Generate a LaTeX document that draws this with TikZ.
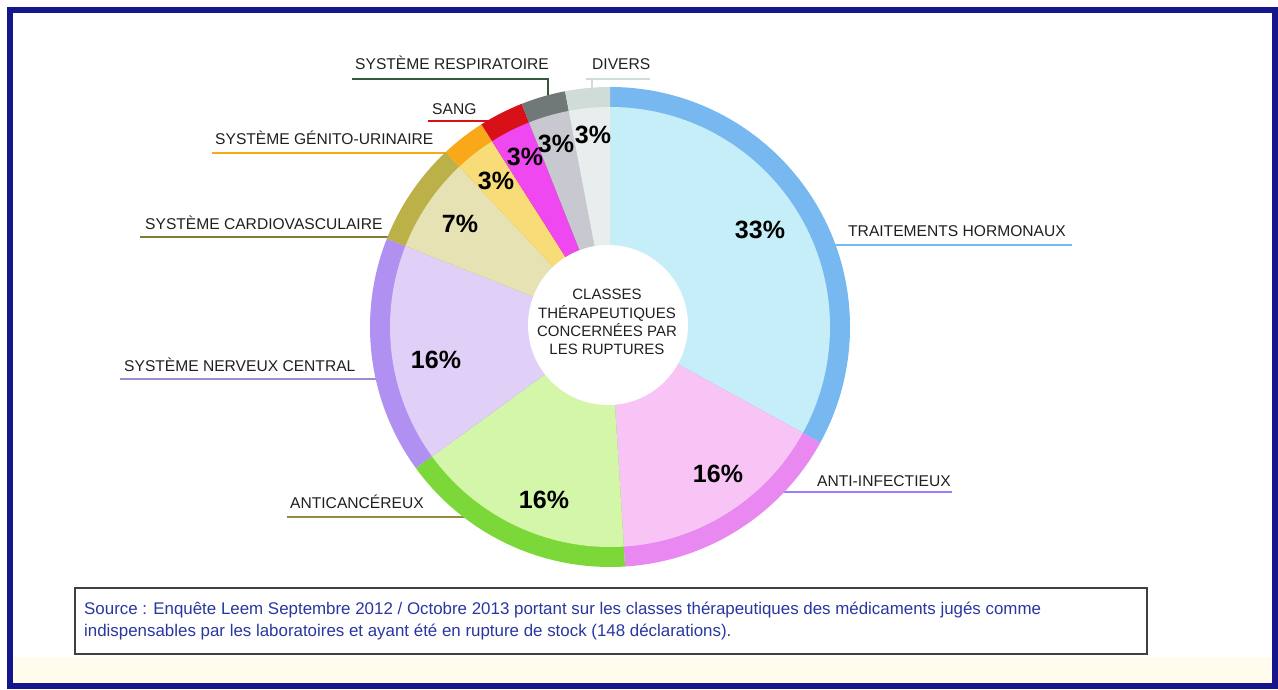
\documentclass[tikz,border=0pt]{standalone}
\usepackage{fontspec}
\setmainfont{Liberation Sans}
\definecolor{framec}{HTML}{15158C}
\definecolor{creamc}{HTML}{FFFCEE}
\definecolor{hormF}{HTML}{C6EEF8}\definecolor{hormR}{HTML}{78B8F0}
\definecolor{infF}{HTML}{F8C4F6}\definecolor{infR}{HTML}{E888F0}
\definecolor{cancF}{HTML}{D4F6A8}\definecolor{cancR}{HTML}{7CD838}
\definecolor{sncF}{HTML}{E0D0F8}\definecolor{sncR}{HTML}{B090F0}
\definecolor{cardF}{HTML}{E6E2B4}\definecolor{cardR}{HTML}{BCB048}
\definecolor{genF}{HTML}{F8DC78}\definecolor{genR}{HTML}{F8A818}
\definecolor{sangF}{HTML}{F048F0}\definecolor{sangR}{HTML}{D81018}
\definecolor{respF}{HTML}{C8C8D0}\definecolor{respR}{HTML}{707878}
\definecolor{divF}{HTML}{E8EEEE}\definecolor{divR}{HTML}{D0DCD8}
\definecolor{srcblue}{HTML}{2838A0}
\definecolor{labtxt}{HTML}{202020}
\newcommand\pieslice[4]{%
  \fill[#3] (c) -- ++(#1:240pt) arc[start angle=#1,end angle=#2,radius=240pt] -- cycle;
  \fill[#4] (c) -- ++(#1:220pt) arc[start angle=#1,end angle=#2,radius=220pt] -- cycle;}
\tikzset{
  lab/.style={anchor=base west,inner sep=0pt,text=labtxt,font=\fontsize{15.6}{18}\selectfont},
  pct/.style={inner sep=0pt,text=black,font=\bfseries\fontsize{25}{25}\selectfont},
  uline/.style={line width=1.4pt},
  src/.style={anchor=base west,inner sep=0pt,text=srcblue,font=\fontsize{16.9}{20}\selectfont}
}
\begin{document}
\begin{tikzpicture}[x=1pt,y=1pt]
\useasboundingbox (0,0) rectangle (1278,689);
\fill[white] (0,0) rectangle (1278,689);
\fill[creamc] (12,6) rectangle (1272,32);
\draw[framec,line width=6pt] (9.5,3) rectangle (1275,679);

% leader / underline lines
\coordinate (r1) at (352,610); \coordinate (r2) at (548,610); \coordinate (r3) at (548,592);
\draw[uline,color=respR!80!green!60!black] (r1) -- (r2) -- (r3);
\coordinate (d1) at (586,610); \coordinate (d2) at (650,610); \coordinate (d3) at (592,600);
\draw[uline,color=divR] (d1) -- (d2); \draw[uline,color=divR] (d3 |- d1) -- (d3);
\coordinate (s1) at (428,568); \coordinate (s2) at (490,568);
\draw[uline,color=sangR] (s1) -- (s2);
\coordinate (g1) at (212,536); \coordinate (g2) at (448,536);
\draw[uline,color=genR] (g1) -- (g2);
\coordinate (cv1) at (140,452); \coordinate (cv2) at (390,452);
\draw[uline,color=cardR!70!black] (cv1) -- (cv2);
\coordinate (n1) at (120,310); \coordinate (n2) at (378,310);
\draw[uline,color=sncR!70!gray] (n1) -- (n2);
\coordinate (h1) at (834,444); \coordinate (h2) at (1072,444);
\draw[uline,color=hormR] (h1) -- (h2);
\coordinate (i1) at (782,197); \coordinate (i2) at (952,197);
\draw[uline,color=infR!50!blue!70!white] (i1) -- (i2);
\coordinate (a1) at (287,172); \coordinate (a2) at (465,172);
\draw[uline,color=cardR!80!black] (a1) -- (a2);

% pie
\coordinate (c) at (610,362);
\pieslice{90}{-28.8}{hormR}{hormF}
\pieslice{-28.8}{-86.4}{infR}{infF}
\pieslice{-86.4}{-144}{cancR}{cancF}
\pieslice{-144}{-201.6}{sncR}{sncF}
\pieslice{-201.6}{-226.8}{cardR}{cardF}
\pieslice{-226.8}{-237.6}{genR}{genF}
\pieslice{-237.6}{-248.4}{sangR}{sangF}
\pieslice{-248.4}{-259.2}{respR}{respF}
\pieslice{-259.2}{-270}{divR}{divF}
\fill[white] (608,364) circle[radius=80pt];

\node[align=center,inner sep=0pt,text=labtxt,font=\fontsize{15}{18.3}\selectfont] (ctr) at (607,367)
  {CLASSES\\THÉRAPEUTIQUES\\CONCERNÉES PAR\\LES RUPTURES};

% percentages
\node[pct] (p1) at (760,459) {33\%};
\node[pct] (p2) at (718,215) {16\%};
\node[pct] (p3) at (544,189) {16\%};
\node[pct] (p4) at (436,329) {16\%};
\node[pct] (p5) at (460,465) {7\%};
\node[pct] (p6) at (496,508) {3\%};
\node[pct] (p7) at (525,532) {3\%};
\node[pct] (p8) at (556,545) {3\%};
\node[pct] (p9) at (593,554) {3\%};

% labels
\node[lab] (lresp) at (355,619) {SYSTÈME RESPIRATOIRE};
\node[lab] (ldiv) at (592,619) {DIVERS};
\node[lab] (lsang) at (432,574) {SANG};
\node[lab] (lgen) at (215,544) {SYSTÈME GÉNITO-URINAIRE};
\node[lab] (lcard) at (145,459) {SYSTÈME CARDIOVASCULAIRE};
\node[lab] (lsnc) at (124,317) {SYSTÈME NERVEUX CENTRAL};
\node[lab] (lhorm) at (848,452) {TRAITEMENTS HORMONAUX};
\node[lab] (linf) at (817,202) {ANTI-INFECTIEUX};
\node[lab] (lcanc) at (290,181) {ANTICANCÉREUX};

% source box
\draw[line width=1.1pt,color=black!75] (75,101) rectangle (1147,35);
\node[src] (src1) at (84,75) {Source : Enquête Leem Septembre 2012 / Octobre 2013 portant sur les classes thérapeutiques des médicaments jugés comme};
\node[src] (src2) at (84,53) {indispensables par les laboratoires et ayant été en rupture de stock (148 déclarations).};
\end{tikzpicture}
\end{document}
